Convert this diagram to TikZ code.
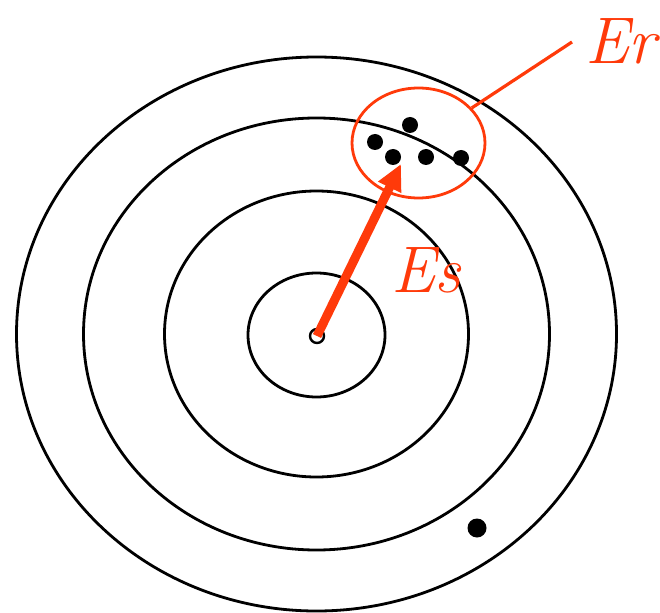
\documentclass[tikz,border=0pt]{standalone}
\usepackage{tikz}
\usetikzlibrary{arrows.meta,positioning,shapes.geometric}
\definecolor{shotred}{HTML}{FF3A0A}
\tikzset{
  ring/.style={draw=black, line width=2.8pt},
  hub/.style={circle, draw=black, fill=white, line width=2.4pt, inner sep=0pt, minimum size=14pt},
  pellet/.style={circle, fill=black, inner sep=0pt, minimum size=16pt},
  cluster/.style={ellipse, draw=shotred, line width=2.8pt, inner sep=0pt},
  errlabel/.style={text=shotred, inner sep=0pt, anchor=base west, font=\fontsize{66}{70}\selectfont\itshape},
  shotarrow/.style={-{Triangle[length=26pt,width=24pt]}, line width=9pt, draw=shotred},
  leader/.style={draw=shotred, line width=3.2pt}
}
\begin{document}
\begin{tikzpicture}[x=1pt,y=-1pt]
\useasboundingbox (0,0) rectangle (660,612);
\coordinate (middle) at (316.5,334);
% target rings
\draw[ring] (middle) ellipse [x radius=300pt, y radius=277pt];
\draw[ring] (middle) ellipse [x radius=233pt, y radius=216pt];
\draw[ring] (middle) ellipse [x radius=152pt, y radius=143pt];
\draw[ring] (316.5,335) ellipse [x radius=68.5pt, y radius=62pt];
\node[cluster, minimum width=133pt, minimum height=110pt] (cluster) at (418.5,143) {};
\node[pellet] (hita) at (410,125) {};
\node[pellet] (hitb) at (375,142) {};
\node[pellet] (hitc) at (393,157) {};
\node[pellet] (hitd) at (426,157) {};
\node[pellet] (hite) at (461,158) {};
\node[pellet, minimum size=19pt] (stray) at (477,528) {};
\node[hub] (origin) at (317,336) {};
\coordinate (aimtip) at (401,164);
\coordinate (erend) at (572,42);
\node[errlabel] (erlabel) at (585,64) {Er};
\node[errlabel] (eslabel) at (391,292) {Es};
\draw[shotarrow] (origin.center) -- (aimtip);
\draw[leader] (cluster) -- (erend);
\end{tikzpicture}
\end{document}
